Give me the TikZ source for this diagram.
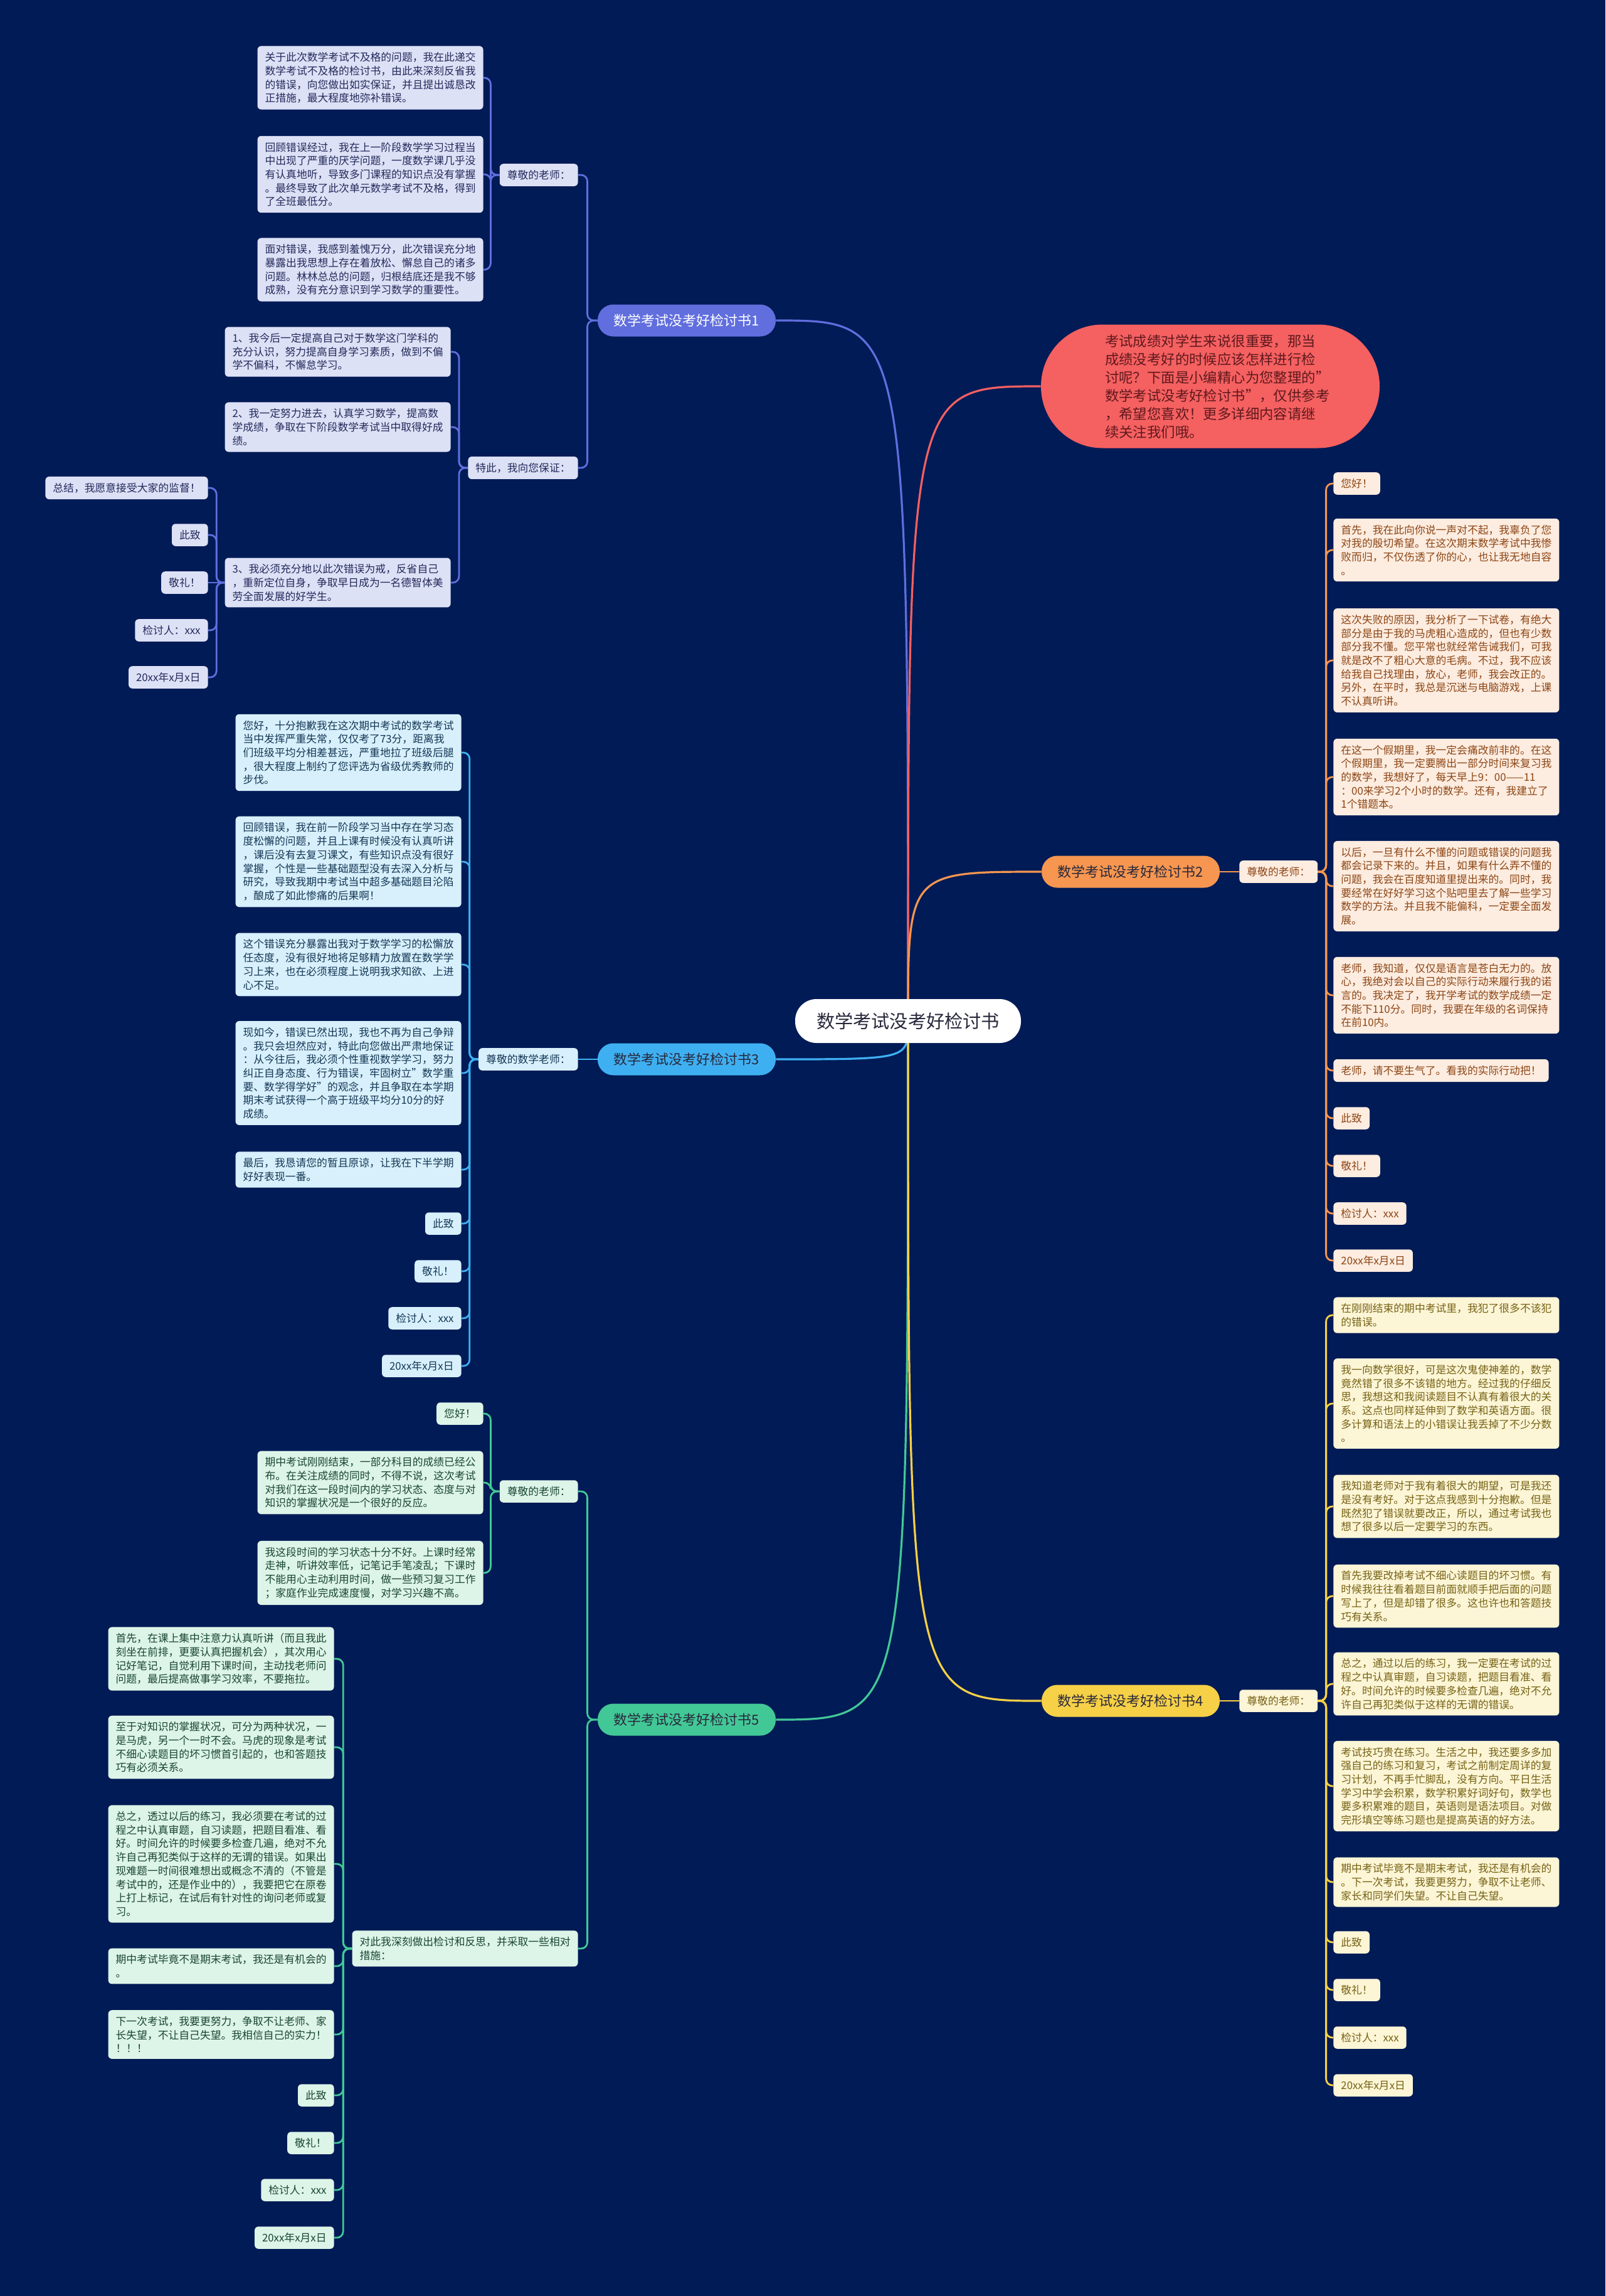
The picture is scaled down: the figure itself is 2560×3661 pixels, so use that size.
\documentclass[tikz,border=0pt]{standalone}
\usepackage{fontspec}
\setmainfont{Noto Sans CJK SC}
\usepackage{xcolor}
\usepackage{tikz}
\usetikzlibrary{backgrounds}

\definecolor{bgnavy}{RGB}{1,27,86}
\definecolor{c1ln}{RGB}{96,110,222}
\definecolor{c1lt}{RGB}{221,225,246}
\definecolor{c1tx}{RGB}{35,42,90}
\definecolor{c3ln}{RGB}{62,176,242}
\definecolor{c3lt}{RGB}{216,240,252}
\definecolor{c3tx}{RGB}{20,55,85}
\definecolor{c5ln}{RGB}{66,200,150}
\definecolor{c5lt}{RGB}{221,244,232}
\definecolor{c5tx}{RGB}{25,70,50}
\definecolor{c2ln}{RGB}{246,150,80}
\definecolor{c2lt}{RGB}{253,236,224}
\definecolor{c2tx}{RGB}{140,70,20}
\definecolor{c4ln}{RGB}{246,208,70}
\definecolor{c4lt}{RGB}{252,245,214}
\definecolor{c4tx}{RGB}{118,98,20}
\definecolor{introred}{RGB}{245,96,96}
\definecolor{introtx}{RGB}{95,25,30}
\definecolor{roottx}{RGB}{40,40,60}

\begin{document}
\begin{tikzpicture}[x=0.5pt, y=-0.5pt]
\tikzstyle{box}=[rectangle, rounded corners=3pt, inner xsep=6pt, inner ysep=5pt, align=left, font=\fontsize{8.4}{10.85}\selectfont]
\tikzstyle{para}=[text width=168pt]
\tikzstyle{lab}=[rectangle, rounded corners=12.5pt, minimum width=142pt, minimum height=25.5pt, inner sep=0pt, font=\fontsize{11}{13}\selectfont]
\tikzstyle{k1}=[box, fill=c1lt, text=c1tx]
\tikzstyle{k3}=[box, fill=c3lt, text=c3tx]
\tikzstyle{k5}=[box, fill=c5lt, text=c5tx]
\tikzstyle{k2}=[box, fill=c2lt, text=c2tx]
\tikzstyle{k4}=[box, fill=c4lt, text=c4tx]
\tikzstyle{l1}=[draw=c1ln, line width=1.4pt, rounded corners=5pt]
\tikzstyle{l3}=[draw=c3ln, line width=1.4pt, rounded corners=5pt]
\tikzstyle{l5}=[draw=c5ln, line width=1.4pt, rounded corners=5pt]
\tikzstyle{l2}=[draw=c2ln, line width=1.4pt, rounded corners=5pt]
\tikzstyle{l4}=[draw=c4ln, line width=1.4pt, rounded corners=5pt]
\tikzstyle{trunk}=[line width=1.6pt]

\useasboundingbox (0,0) rectangle (2560,3661);
\begin{pgfonlayer}{background}
\fill[bgnavy] (0,0) rectangle (2560,3661);
\end{pgfonlayer}

% centre and intro
\node[rectangle, rounded corners=17pt, fill=white, text=roottx, minimum width=180pt, minimum height=35pt, font=\fontsize{14.6}{17}\selectfont] (root) at (1448,1628) {数学考试没考好检讨书};
\coordinate (ctr) at (1448,1632);
\node[rectangle, rounded corners=49pt, fill=introred, text=introtx, minimum width=270pt, minimum height=98.5pt, text width=168pt, align=left, font=\fontsize{11.2}{14.5}\selectfont] (intro) at (1930,616) {考试成绩对学生来说很重要，那当\\成绩没考好的时候应该怎样进行检\\讨呢？下面是小编精心为您整理的"\\数学考试没考好检讨书"，仅供参考\\，希望您喜欢！更多详细内容请继\\续关注我们哦。};

% branch labels
\node[lab, fill=c1ln, text=white] (b1) at (1095,511) {数学考试没考好检讨书1};
\node[lab, fill=c3ln, text=roottx] (b3) at (1095,1689) {数学考试没考好检讨书3};
\node[lab, fill=c5ln, text=roottx] (b5) at (1095,2742) {数学考试没考好检讨书5};
\node[lab, fill=c2ln, text=roottx] (b2) at (1803,1390) {数学考试没考好检讨书2};
\node[lab, fill=c4ln, text=roottx] (b4) at (1803,2712) {数学考试没考好检讨书4};

% branch 1
\node[k1, anchor=east] (b1a) at (922,279) {尊敬的老师：};
\node[k1, anchor=east] (b1b) at (922,746) {特此，我向您保证：};
\node[k1, para, anchor=east] (t1) at (771,124) {关于此次数学考试不及格的问题，我在此递交\\数学考试不及格的检讨书，由此来深刻反省我\\的错误，向您做出如实保证，并且提出诚恳改\\正措施，最大程度地弥补错误。};
\node[k1, para, anchor=east] (t2) at (771,278) {回顾错误经过，我在上一阶段数学学习过程当\\中出现了严重的厌学问题，一度数学课几乎没\\有认真地听，导致多门课程的知识点没有掌握\\。最终导致了此次单元数学考试不及格，得到\\了全班最低分。};
\node[k1, para, anchor=east] (t3) at (771,430) {面对错误，我感到羞愧万分，此次错误充分地\\暴露出我思想上存在着放松、懈怠自己的诸多\\问题。林林总总的问题，归根结底还是我不够\\成熟，没有充分意识到学习数学的重要性。};
\node[k1, para, anchor=east] (p1) at (719,561) {1、我今后一定提高自己对于数学这门学科的\\充分认识，努力提高自身学习素质，做到不偏\\学不偏科，不懈怠学习。};
\node[k1, para, anchor=east] (p2) at (719,681) {2、我一定努力进去，认真学习数学，提高数\\学成绩，争取在下阶段数学考试当中取得好成\\绩。};
\node[k1, para, anchor=east] (p3) at (719,929) {3、我必须充分地以此次错误为戒，反省自己\\，重新定位自身，争取早日成为一名德智体美\\劳全面发展的好学生。};
\node[k1, anchor=east] (q1) at (332,778) {总结，我愿意接受大家的监督！};
\node[k1, anchor=east] (q2) at (332,853) {此致};
\node[k1, anchor=east] (q3) at (332,929) {敬礼！};
\node[k1, anchor=east] (q4) at (332,1005) {检讨人：xxx};
\node[k1, anchor=east] (q5) at (332,1080) {20xx年x月x日};

% branch 3
\node[k3, anchor=east] (b3a) at (922,1689) {尊敬的数学老师：};
\node[k3, para, anchor=east] (s1) at (736,1200) {您好，十分抱歉我在这次期中考试的数学考试\\当中发挥严重失常，仅仅考了73分，距离我\\们班级平均分相差甚远，严重地拉了班级后腿\\，很大程度上制约了您评选为省级优秀教师的\\步伐。};
\node[k3, para, anchor=east] (s2) at (736,1374) {回顾错误，我在前一阶段学习当中存在学习态\\度松懈的问题，并且上课有时候没有认真听讲\\，课后没有去复习课文，有些知识点没有很好\\掌握，个性是一些基础题型没有去深入分析与\\研究，导致我期中考试当中超多基础题目沦陷\\，酿成了如此惨痛的后果啊！};
\node[k3, para, anchor=east] (s3) at (736,1538) {这个错误充分暴露出我对于数学学习的松懈放\\任态度，没有很好地将足够精力放置在数学学\\习上来，也在必须程度上说明我求知欲、上进\\心不足。};
\node[k3, para, anchor=east] (s4) at (736,1711) {现如今，错误已然出现，我也不再为自己争辩\\。我只会坦然应对，特此向您做出严肃地保证\\：从今往后，我必须个性重视数学学习，努力\\纠正自身态度、行为错误，牢固树立"数学重\\要、数学得学好"的观念，并且争取在本学期\\期末考试获得一个高于班级平均分10分的好\\成绩。};
\node[k3, para, anchor=east] (s5) at (736,1865) {最后，我恳请您的暂且原谅，让我在下半学期\\好好表现一番。};
\node[k3, anchor=east] (s6) at (736,1951) {此致};
\node[k3, anchor=east] (s7) at (736,2027) {敬礼！};
\node[k3, anchor=east] (s8) at (736,2102) {检讨人：xxx};
\node[k3, anchor=east] (s9) at (736,2178) {20xx年x月x日};

% branch 5
\node[k5, anchor=east] (b5a) at (922,2378) {尊敬的老师：};
\node[k5, para, anchor=east] (b5b) at (922,3107) {对此我深刻做出检讨和反思，并采取一些相对\\措施：};
\node[k5, anchor=east] (g0) at (771,2254) {您好！};
\node[k5, para, anchor=east] (g1) at (771,2364) {期中考试刚刚结束，一部分科目的成绩已经公\\布。在关注成绩的同时，不得不说，这次考试\\对我们在这一段时间内的学习状态、态度与对\\知识的掌握状况是一个很好的反应。};
\node[k5, para, anchor=east] (g2) at (771,2508) {我这段时间的学习状态十分不好。上课时经常\\走神，听讲效率低，记笔记手笔凌乱；下课时\\不能用心主动利用时间，做一些预习复习工作\\；家庭作业完成速度慢，对学习兴趣不高。};
\node[k5, para, anchor=east] (h1) at (533,2645) {首先，在课上集中注意力认真听讲（而且我此\\刻坐在前排，更要认真把握机会），其次用心\\记好笔记，自觉利用下课时间，主动找老师问\\问题，最后提高做事学习效率，不要拖拉。};
\node[k5, para, anchor=east] (h2) at (533,2786) {至于对知识的掌握状况，可分为两种状况，一\\是马虎，另一个一时不会。马虎的现象是考试\\不细心读题目的坏习惯首引起的，也和答题技\\巧有必须关系。};
\node[k5, para, anchor=east] (h3) at (533,2972) {总之，透过以后的练习，我必须要在考试的过\\程之中认真审题，自习读题，把题目看准、看\\好。时间允许的时候要多检查几遍，绝对不允\\许自己再犯类似于这样的无谓的错误。如果出\\现难题一时间很难想出或概念不清的（不管是\\考试中的，还是作业中的），我要把它在原卷\\上打上标记，在试后有针对性的询问老师或复\\习。};
\node[k5, para, anchor=east] (h4) at (533,3135) {期中考试毕竟不是期末考试，我还是有机会的\\。};
\node[k5, para, anchor=east] (h5) at (533,3244) {下一次考试，我要更努力，争取不让老师、家\\长失望，不让自己失望。我相信自己的实力！\\！！！};
\node[k5, anchor=east] (h6) at (533,3341) {此致};
\node[k5, anchor=east] (h7) at (533,3417) {敬礼！};
\node[k5, anchor=east] (h8) at (533,3492) {检讨人：xxx};
\node[k5, anchor=east] (h9) at (533,3568) {20xx年x月x日};

% branch 2
\node[k2, anchor=west] (b2a) at (1976,1390) {尊敬的老师：};
\node[k2, anchor=west] (r0) at (2126,771) {您好！};
\node[k2, para, anchor=west] (r1) at (2126,877) {首先，我在此向你说一声对不起，我辜负了您\\对我的殷切希望。在这次期末数学考试中我惨\\败而归，不仅伤透了你的心，也让我无地自容\\。};
\node[k2, para, anchor=west] (r2) at (2126,1053) {这次失败的原因，我分析了一下试卷，有绝大\\部分是由于我的马虎粗心造成的，但也有少数\\部分我不懂。您平常也就经常告诫我们，可我\\就是改不了粗心大意的毛病。不过，我不应该\\给我自己找理由，放心，老师，我会改正的。\\另外，在平时，我总是沉迷与电脑游戏，上课\\不认真听讲。};
\node[k2, para, anchor=west] (r3) at (2126,1239) {在这一个假期里，我一定会痛改前非的。在这\\个假期里，我一定要腾出一部分时间来复习我\\的数学，我想好了，每天早上9：00——11\\：00来学习2个小时的数学。还有，我建立了\\1个错题本。};
\node[k2, para, anchor=west] (r4) at (2126,1413) {以后，一旦有什么不懂的问题或错误的问题我\\都会记录下来的。并且，如果有什么弄不懂的\\问题，我会在百度知道里提出来的。同时，我\\要经常在好好学习这个贴吧里去了解一些学习\\数学的方法。并且我不能偏科，一定要全面发\\展。};
\node[k2, para, anchor=west] (r5) at (2126,1587) {老师，我知道，仅仅是语言是苍白无力的。放\\心，我绝对会以自己的实际行动来履行我的诺\\言的。我决定了，我开学考试的数学成绩一定\\不能下110分。同时，我要在年级的名词保持\\在前10内。};
\node[k2, anchor=west] (r6) at (2126,1707) {老师，请不要生气了。看我的实际行动把！};
\node[k2, anchor=west] (r7) at (2126,1783) {此致};
\node[k2, anchor=west] (r8) at (2126,1859) {敬礼！};
\node[k2, anchor=west] (r9) at (2126,1935) {检讨人：xxx};
\node[k2, anchor=west] (r10) at (2126,2010) {20xx年x月x日};

% branch 4
\node[k4, anchor=west] (b4a) at (1976,2712) {尊敬的老师：};
\node[k4, para, anchor=west] (y1) at (2126,2097) {在刚刚结束的期中考试里，我犯了很多不该犯\\的错误。};
\node[k4, para, anchor=west] (y2) at (2126,2238) {我一向数学很好，可是这次鬼使神差的，数学\\竟然错了很多不该错的地方。经过我的仔细反\\思，我想这和我阅读题目不认真有着很大的关\\系。这点也同样延伸到了数学和英语方面。很\\多计算和语法上的小错误让我丢掉了不少分数\\。};
\node[k4, para, anchor=west] (y3) at (2126,2402) {我知道老师对于我有着很大的期望，可是我还\\是没有考好。对于这点我感到十分抱歉。但是\\既然犯了错误就要改正，所以，通过考试我也\\想了很多以后一定要学习的东西。};
\node[k4, para, anchor=west] (y4) at (2126,2545) {首先我要改掉考试不细心读题目的坏习惯。有\\时候我往往看着题目前面就顺手把后面的问题\\写上了，但是却错了很多。这也许也和答题技\\巧有关系。};
\node[k4, para, anchor=west] (y5) at (2126,2685) {总之，通过以后的练习，我一定要在考试的过\\程之中认真审题，自习读题，把题目看准、看\\好。时间允许的时候要多检查几遍，绝对不允\\许自己再犯类似于这样的无谓的错误。};
\node[k4, para, anchor=west] (y6) at (2126,2848) {考试技巧贵在练习。生活之中，我还要多多加\\强自己的练习和复习，考试之前制定周详的复\\习计划，不再手忙脚乱，没有方向。平日生活\\学习中学会积累，数学积累好词好句，数学也\\要多积累难的题目，英语则是语法项目。对做\\完形填空等练习题也是提高英语的好方法。};
\node[k4, para, anchor=west] (y7) at (2126,3001) {期中考试毕竟不是期末考试，我还是有机会的\\。下一次考试，我要更努力，争取不让老师、\\家长和同学们失望。不让自己失望。};
\node[k4, anchor=west] (y8) at (2126,3097) {此致};
\node[k4, anchor=west] (y9) at (2126,3173) {敬礼！};
\node[k4, anchor=west] (y10) at (2126,3249) {检讨人：xxx};
\node[k4, anchor=west] (y11) at (2126,3325) {20xx年x月x日};

\begin{pgfonlayer}{background}
% trunks from the centre
\draw[trunk, draw=c1ln] (ctr) .. controls (ctr |- b1.east) .. (b1.east);
\draw[trunk, draw=c3ln] (ctr) .. controls (ctr |- b3.east) .. (b3.east);
\draw[trunk, draw=c5ln] (ctr) .. controls (ctr |- b5.east) .. (b5.east);
\draw[trunk, draw=introred] (ctr) .. controls (ctr |- intro.west) .. (intro.west);
\draw[trunk, draw=c2ln] (ctr) .. controls (ctr |- b2.west) .. (b2.west);
\draw[trunk, draw=c4ln] (ctr) .. controls (ctr |- b4.west) .. (b4.west);

% branch 1
\draw[l1] (b1.west) -- ++(-16,0) |- (b1a.east);
\draw[l1] (b1.west) -- ++(-16,0) |- (b1b.east);
\draw[l1] (b1a.west) -- ++(-14,0) |- (t1.east);
\draw[l1] (b1a.west) -- ++(-14,0) |- (t2.east);
\draw[l1] (b1a.west) -- ++(-14,0) |- (t3.east);
\draw[l1] (b1b.west) -- ++(-14,0) |- (p1.east);
\draw[l1] (b1b.west) -- ++(-14,0) |- (p2.east);
\draw[l1] (b1b.west) -- ++(-14,0) |- (p3.east);
\draw[l1] (p3.west) -- ++(-13,0) |- (q1.east);
\draw[l1] (p3.west) -- ++(-13,0) |- (q2.east);
\draw[l1] (p3.west) -- (q3.east);
\draw[l1] (p3.west) -- ++(-13,0) |- (q4.east);
\draw[l1] (p3.west) -- ++(-13,0) |- (q5.east);

% branch 3
\draw[l3] (b3.west) -- (b3a.east);
\draw[l3] (b3a.west) -- ++(-14,0) |- (s1.east);
\draw[l3] (b3a.west) -- ++(-14,0) |- (s2.east);
\draw[l3] (b3a.west) -- ++(-14,0) |- (s3.east);
\draw[l3] (b3a.west) -- ++(-14,0) |- (s4.east);
\draw[l3] (b3a.west) -- ++(-14,0) |- (s5.east);
\draw[l3] (b3a.west) -- ++(-14,0) |- (s6.east);
\draw[l3] (b3a.west) -- ++(-14,0) |- (s7.east);
\draw[l3] (b3a.west) -- ++(-14,0) |- (s8.east);
\draw[l3] (b3a.west) -- ++(-14,0) |- (s9.east);

% branch 5
\draw[l5] (b5.west) -- ++(-16,0) |- (b5a.east);
\draw[l5] (b5.west) -- ++(-16,0) |- (b5b.east);
\draw[l5] (b5a.west) -- ++(-14,0) |- (g0.east);
\draw[l5] (b5a.west) -- ++(-14,0) |- (g1.east);
\draw[l5] (b5a.west) -- ++(-14,0) |- (g2.east);
\draw[l5] (b5b.west) -- ++(-14,0) |- (h1.east);
\draw[l5] (b5b.west) -- ++(-14,0) |- (h2.east);
\draw[l5] (b5b.west) -- ++(-14,0) |- (h3.east);
\draw[l5] (b5b.west) -- ++(-14,0) |- (h4.east);
\draw[l5] (b5b.west) -- ++(-14,0) |- (h5.east);
\draw[l5] (b5b.west) -- ++(-14,0) |- (h6.east);
\draw[l5] (b5b.west) -- ++(-14,0) |- (h7.east);
\draw[l5] (b5b.west) -- ++(-14,0) |- (h8.east);
\draw[l5] (b5b.west) -- ++(-14,0) |- (h9.east);

% branch 2
\draw[l2] (b2.east) -- (b2a.west);
\draw[l2] (b2a.east) -- ++(13,0) |- (r0.west);
\draw[l2] (b2a.east) -- ++(13,0) |- (r1.west);
\draw[l2] (b2a.east) -- ++(13,0) |- (r2.west);
\draw[l2] (b2a.east) -- ++(13,0) |- (r3.west);
\draw[l2] (b2a.east) -- ++(13,0) |- (r4.west);
\draw[l2] (b2a.east) -- ++(13,0) |- (r5.west);
\draw[l2] (b2a.east) -- ++(13,0) |- (r6.west);
\draw[l2] (b2a.east) -- ++(13,0) |- (r7.west);
\draw[l2] (b2a.east) -- ++(13,0) |- (r8.west);
\draw[l2] (b2a.east) -- ++(13,0) |- (r9.west);
\draw[l2] (b2a.east) -- ++(13,0) |- (r10.west);

% branch 4
\draw[l4] (b4.east) -- (b4a.west);
\draw[l4] (b4a.east) -- ++(13,0) |- (y1.west);
\draw[l4] (b4a.east) -- ++(13,0) |- (y2.west);
\draw[l4] (b4a.east) -- ++(13,0) |- (y3.west);
\draw[l4] (b4a.east) -- ++(13,0) |- (y4.west);
\draw[l4] (b4a.east) -- ++(13,0) |- (y5.west);
\draw[l4] (b4a.east) -- ++(13,0) |- (y6.west);
\draw[l4] (b4a.east) -- ++(13,0) |- (y7.west);
\draw[l4] (b4a.east) -- ++(13,0) |- (y8.west);
\draw[l4] (b4a.east) -- ++(13,0) |- (y9.west);
\draw[l4] (b4a.east) -- ++(13,0) |- (y10.west);
\draw[l4] (b4a.east) -- ++(13,0) |- (y11.west);
\end{pgfonlayer}
\end{tikzpicture}
\end{document}
